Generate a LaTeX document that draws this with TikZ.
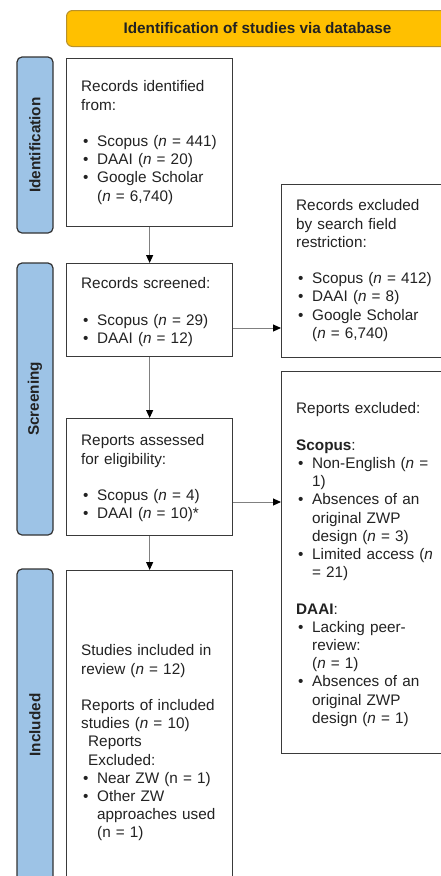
\documentclass[tikz,border=0pt]{standalone}
\usepackage{fontspec}
\setmainfont{Liberation Sans}
\usetikzlibrary{arrows.meta}
\definecolor{sideblue}{HTML}{9DC3E6}
\definecolor{hdrorange}{HTML}{FFC000}
\definecolor{hdrborder}{HTML}{B8912A}
\definecolor{boxborder}{HTML}{3A3A3A}
\definecolor{arrowgray}{HTML}{808080}
\definecolor{txtcol}{HTML}{222222}
\newcommand\bitem[1]{\par\hangindent=16pt\relax\hangafter=1\relax\makebox[16pt][l]{\hspace{2pt}\textbullet}#1}
\newcommand\gapline{\par\vspace{18.2pt}}
\newcommand\nl{\newline}
\newcommand\parsetup{\setlength{\parskip}{0pt}\setlength{\parindent}{0pt}}
\tikzset{
  box/.style={draw=boxborder, line width=1.3pt, fill=white, inner sep=0pt, anchor=north west},
  side/.style={draw=black!80, fill=sideblue, rounded corners=5pt, line width=1.2pt, rotate=90,
    font=\fontsize{15.3}{18}\selectfont\bfseries, inner sep=0pt, text=txtcol},
  txt/.style={anchor=north west, inner sep=0pt, text width=170pt, text=txtcol,
    font=\fontsize{15.3}{18.2}\selectfont, execute at begin node=\parsetup, execute at end node=\par},
  arr/.style={draw=arrowgray, line width=1pt, -{Triangle[length=8pt,width=7pt,black]}}
}
\begin{document}
\begin{tikzpicture}[x=1pt,y=-1pt]
\useasboundingbox (0,0) rectangle (441,876);
\clip (0,0) rectangle (441,876);
% header
\node[draw=hdrborder, fill=hdrorange, rounded corners=6pt, line width=1pt, anchor=north west,
  minimum width=382pt, minimum height=36pt, inner sep=0pt, text=txtcol,
  font=\fontsize{15.3}{18}\selectfont\bfseries] (hdr) at (66,10) {Identification of studies via database};
% side labels
\node[side, minimum width=176pt, minimum height=36pt] (s1) at (35,145) {Identification};
\node[side, minimum width=272pt, minimum height=36pt] (s2) at (35,399) {Screening};
\node[side, minimum width=312pt, minimum height=36pt] (s3) at (35,725) {Included};
% boxes
\node[box, minimum width=166pt, minimum height=168pt] (b1) at (66,58) {};
\node[box, minimum width=166pt, minimum height=93pt] (b2) at (66,263) {};
\node[box, minimum width=166pt, minimum height=117pt] (b3) at (66,418) {};
\node[box, minimum width=166pt, minimum height=311pt] (b4) at (66,570) {};
\node[box, minimum width=180pt, minimum height=173pt] (bA) at (281,184) {};
\node[box, minimum width=180pt, minimum height=382pt] (bB) at (281,371) {};
% texts
\node[txt] (t1) at (81,79) {\strut Records identified\nl from:\gapline
  \bitem{Scopus (\textit{n} = 441)}
  \bitem{DAAI (\textit{n} = 20)}
  \bitem{Google Scholar\nl(\textit{n} = 6,740)}\par};
\node[txt] (t2) at (81,276) {\strut Records screened:\gapline
  \bitem{Scopus (\textit{n} = 29)}
  \bitem{DAAI (\textit{n} = 12)}\par};
\node[txt] (t3) at (81,433) {\strut Reports assessed\nl for eligibility:\gapline
  \bitem{Scopus (\textit{n} = 4)}
  \bitem{DAAI (\textit{n} = 10)*}\par};
\node[txt] (t4) at (81,643) {\strut Studies included in\nl review (\textit{n} = 12)\gapline
  Reports of included\nl studies (\textit{n} = 10)\nl
  \hspace*{7pt}Reports\nl\hspace*{7pt}Excluded:
  \bitem{Near ZW (n = 1)}
  \bitem{Other ZW\nl approaches used\nl(n = 1)}\par};
\node[txt] (tA) at (296,198) {\strut Records excluded\nl by search field\nl restriction:\gapline
  \bitem{Scopus (\textit{n} = 412)}
  \bitem{DAAI (\textit{n} = 8)}
  \bitem{Google Scholar\nl(\textit{n} = 6,740)}\par};
\node[txt] (tB) at (296,401) {\strut Reports excluded:\gapline
  \textbf{Scopus}:
  \bitem{Non-English (\textit{n} =\nl 1)}
  \bitem{Absences of an\nl original ZWP\nl design (\textit{n} = 3)}
  \bitem{Limited access (\textit{n}\nl= 21)}\gapline
  \textbf{DAAI}:
  \bitem{Lacking peer-\nl review:\nl(\textit{n} = 1)}
  \bitem{Absences of an\nl original ZWP\nl design (\textit{n} = 1)}\par};
% connectors
\coordinate (y1) at (0,328);
\coordinate (y2) at (0,502);
\draw[arr] (b1.south) -- (b2.north);
\draw[arr] (b2.south) -- (b3.north);
\draw[arr] (b3.south) -- (b4.north);
\draw[arr] (b2.east |- y1) -- (bA.west |- y1);
\draw[arr] (b3.east |- y2) -- (bB.west |- y2);
\end{tikzpicture}
\end{document}
